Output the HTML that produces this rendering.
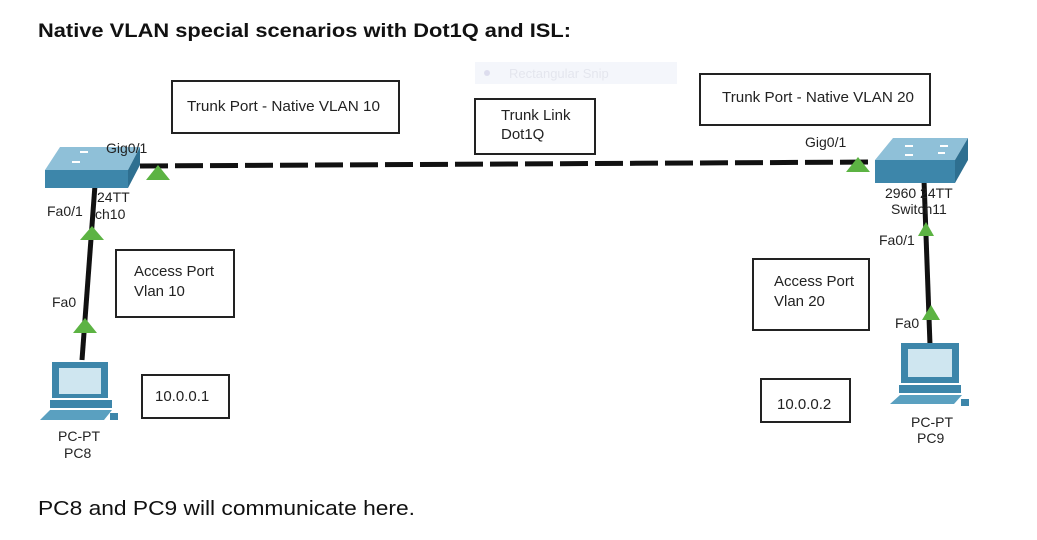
<!DOCTYPE html>
<html><head><meta charset="utf-8"><style>
html,body{margin:0;padding:0;background:#fff;}
svg{display:block;font-family:"Liberation Sans",Arial,sans-serif;}
</style></head><body>
<svg width="1037" height="540" viewBox="0 0 1037 540" xmlns="http://www.w3.org/2000/svg">
<rect width="1037" height="540" fill="#fff"/>
<text x="38" y="37" font-size="19" font-weight="bold" fill="#111" textLength="533" lengthAdjust="spacingAndGlyphs">Native VLAN special scenarios with Dot1Q and ISL:</text>
<text x="38" y="515" font-size="20" fill="#111" textLength="377" lengthAdjust="spacingAndGlyphs">PC8 and PC9 will communicate here.</text>
<rect x="475" y="62" width="202" height="22" fill="#f4f6fb"/>
<circle cx="487" cy="73" r="3" fill="#dde"/>
<text x="509" y="78" font-size="13" fill="#e4e6ee">Rectangular Snip</text>
<g fill="#fff" stroke="#222" stroke-width="2">
<rect x="172" y="81" width="227" height="52"/>
<rect x="475" y="99" width="120" height="55"/>
<rect x="700" y="74" width="230" height="51"/>
<rect x="116" y="250" width="118" height="67"/>
<rect x="753" y="259" width="116" height="71"/>
<rect x="142" y="375" width="87" height="43"/>
<rect x="761" y="379" width="89" height="43"/>
</g>
<g font-size="15" fill="#222">
<text x="187" y="111" textLength="193" lengthAdjust="spacingAndGlyphs">Trunk Port - Native VLAN 10</text>
<text x="501" y="120">Trunk Link</text><text x="501" y="139">Dot1Q</text>
<text x="722" y="102" textLength="192" lengthAdjust="spacingAndGlyphs">Trunk Port - Native VLAN 20</text>
<text x="134" y="276">Access Port</text><text x="134" y="296">Vlan 10</text>
<text x="774" y="286">Access Port</text><text x="774" y="306">Vlan 20</text>
<text x="155" y="401">10.0.0.1</text>
<text x="777" y="409">10.0.0.2</text>
</g>
<line x1="140" y1="166" x2="875" y2="162" stroke="#111" stroke-width="5" stroke-dasharray="28,7"/>
<line x1="95" y1="185" x2="82" y2="360" stroke="#111" stroke-width="5"/>
<line x1="924" y1="180" x2="930" y2="345" stroke="#111" stroke-width="5"/>
<g fill="#5cb343">
<polygon points="146,180 158,165 170,180"/>
<polygon points="80,240 92,226 104,240"/>
<polygon points="73,333 85,318 97,333"/>
<polygon points="846,172 858,157 870,172"/>
<polygon points="918,236 926,222 934,236"/>
<polygon points="922,320 931,305 940,320"/>
</g>
<polygon points="45,170 60,147 140,147 128,170" fill="#8fc0d8"/>
<rect x="45" y="170" width="83" height="18" fill="#3d86aa"/>
<polygon points="128,170 140,147 140,165 128,188" fill="#2e6f90"/>
<g stroke="#fff" stroke-width="2"><line x1="80" y1="152" x2="88" y2="152"/><line x1="72" y1="162" x2="80" y2="162"/></g>
<polygon points="875,160 893,138 968,138 955,160" fill="#8fc0d8"/>
<rect x="875" y="160" width="80" height="23" fill="#3d86aa"/>
<polygon points="955,160 968,138 968,160 955,183" fill="#2e6f90"/>
<g stroke="#fff" stroke-width="2"><line x1="905" y1="146" x2="913" y2="146"/><line x1="940" y1="146" x2="948" y2="146"/><line x1="905" y1="155" x2="913" y2="155"/><line x1="938" y1="153" x2="945" y2="153"/></g>
<g>
<rect x="52" y="362" width="56" height="36" fill="#3d86aa"/><rect x="59" y="368" width="42" height="26" fill="#cfe6f0"/>
<rect x="50" y="400" width="62" height="8" fill="#3d86aa"/>
<polygon points="40,420 50,410 112,410 104,420" fill="#5aa0c0"/>
<rect x="110" y="413" width="8" height="7" fill="#3d86aa"/>
</g>
<g>
<rect x="901" y="343" width="58" height="40" fill="#3d86aa"/><rect x="908" y="349" width="44" height="28" fill="#cfe6f0"/>
<rect x="899" y="385" width="62" height="8" fill="#3d86aa"/>
<polygon points="890,404 900,395 962,395 954,404" fill="#5aa0c0"/>
<rect x="961" y="399" width="8" height="7" fill="#3d86aa"/>
</g>
<g font-size="14" fill="#222">
<text x="106" y="153">Gig0/1</text>
<text x="97" y="202">24TT</text><text x="95" y="219">ch10</text>
<text x="47" y="216">Fa0/1</text>
<text x="52" y="307">Fa0</text>
<text x="58" y="441">PC-PT</text><text x="64" y="458">PC8</text>
<text x="805" y="147">Gig0/1</text>
<text x="885" y="198">2960 24TT</text><text x="891" y="214">Switch11</text>
<text x="879" y="245">Fa0/1</text>
<text x="895" y="328">Fa0</text>
<text x="911" y="427">PC-PT</text><text x="917" y="443">PC9</text>
</g>
</svg>
</body></html>
